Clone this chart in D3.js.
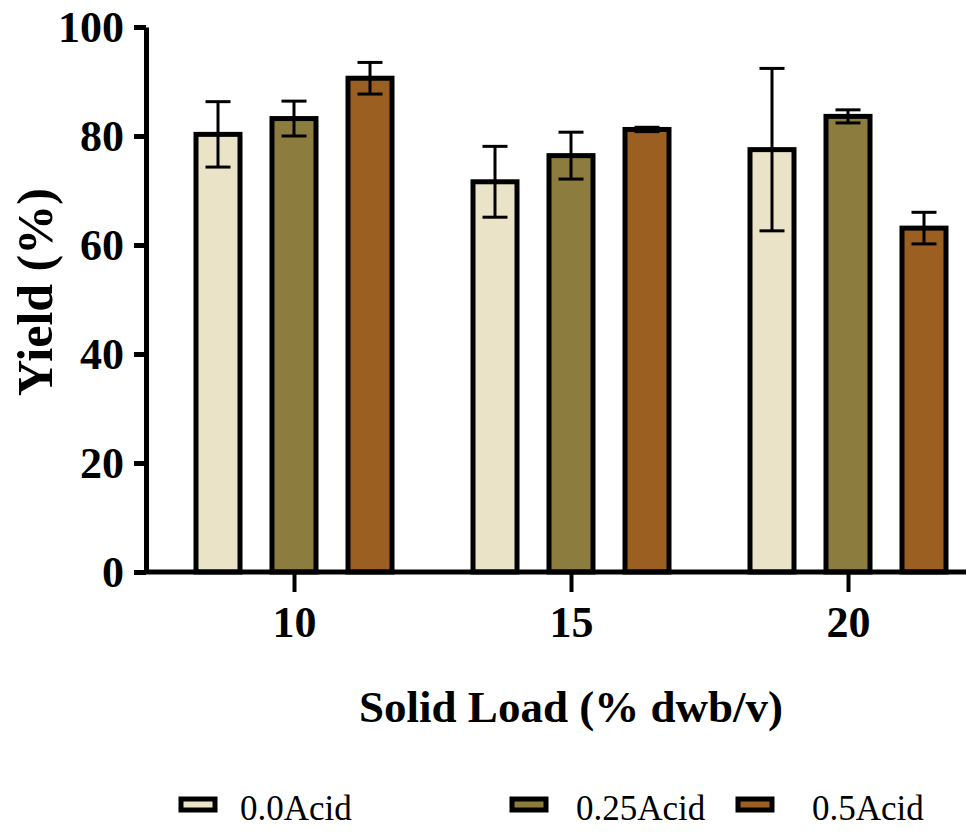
<!DOCTYPE html>
<html><head><meta charset="utf-8">
<script src="https://cdn.jsdelivr.net/npm/d3@7"></script>
<style>body{margin:0;background:#fff}svg{display:block}
.serif{font-family:"Liberation Serif","Times New Roman",Times,serif}</style>
</head><body>
<svg id="c" width="970" height="834"></svg>
<script>
const categories = ["10", "15", "20"];
const seriesNames = ["0.0Acid", "0.25Acid", "0.5Acid"];
const acid00 = [80.3, 71.6, 77.5];
const acid025 = [83.2, 76.4, 83.6];
const acid05 = [90.6, 81.2, 63.1];
const err00 = [6.0, 6.5, 14.9];
const err025 = [3.2, 4.3, 1.2];
const err05 = [2.9, 0.4, 2.9];
const yTicks = [0, 20, 40, 60, 80, 100];
const colors = ["#ebe3c8", "#8c7c3e", "#9b5f22"];

const values = [acid00, acid025, acid05];
const errs = [err00, err025, err05];

const svg = d3.select("#c");

const x = d3.scalePoint().domain(categories).range([294, 848]);
const x1 = d3.scaleBand().domain(seriesNames).range([-98, 98]).paddingInner(0.421).paddingOuter(0);
const y = d3.scaleLinear().domain([0, 100]).range([572, 27]);

const data = [];
categories.forEach((c, i) => seriesNames.forEach((s, j) => data.push({c, s, j, v: values[j][i], e: errs[j][i]})));

const g = svg.append("g");
g.selectAll("rect.bar").data(data).enter().append("rect")
  .attr("class", "bar")
  .attr("x", d => x(d.c) + x1(d.s))
  .attr("y", d => y(d.v))
  .attr("width", x1.bandwidth())
  .attr("height", d => y(0) - y(d.v))
  .attr("fill", d => colors[d.j])
  .attr("stroke", "#000").attr("stroke-width", 5);

const eb = g.selectAll("g.eb").data(data).enter().append("g").attr("class", "eb");
const cx = d => x(d.c) + x1(d.s) + x1.bandwidth() / 2;
eb.append("line").attr("x1", cx).attr("x2", cx)
  .attr("y1", d => y(d.v + d.e)).attr("y2", d => y(d.v - d.e))
  .attr("stroke", "#000").attr("stroke-width", 3);
[1, -1].forEach(sg => {
  eb.append("line").attr("x1", d => cx(d) - 12.5).attr("x2", d => cx(d) + 12.5)
    .attr("y1", d => y(d.v + sg * d.e)).attr("y2", d => y(d.v + sg * d.e))
    .attr("stroke", "#000").attr("stroke-width", 3);
});

// y axis
const ya = svg.append("g").attr("transform", "translate(146,0)")
  .call(d3.axisLeft(y).tickValues(yTicks).tickSize(12).tickSizeOuter(0).tickPadding(10));
ya.select(".domain").attr("stroke-width", 5);
ya.selectAll(".tick line").attr("stroke-width", 5);
ya.selectAll(".tick text").attr("class", "serif").attr("font-family", null).attr("font-weight", "bold")
  .attr("font-size", 44).attr("fill", "#000");

// x axis
const xa = svg.append("g").attr("transform", "translate(0,572)")
  .call(d3.axisBottom(x).tickSize(20).tickSizeOuter(0));
xa.select(".domain").remove();
xa.selectAll(".tick line").attr("stroke-width", 4);
xa.selectAll(".tick text").attr("class", "serif").attr("font-family", null).attr("font-weight", "bold")
  .attr("font-size", 44).attr("fill", "#000").attr("y", 65).attr("dy", 0);
svg.append("line").attr("x1", 144).attr("x2", 966).attr("y1", 572).attr("y2", 572)
  .attr("stroke", "#000").attr("stroke-width", 5);

// axis titles
svg.append("text").attr("class", "serif").attr("x", 571).attr("y", 722).attr("text-anchor", "middle")
  .attr("font-weight", "bold").attr("font-size", 45)
  .text("Solid Load (% dwb/v)");
svg.append("text").attr("class", "serif").attr("transform", "translate(52,292) rotate(-90)").attr("text-anchor", "middle")
  .attr("font-weight", "bold").attr("font-size", 50)
  .text("Yield (%)");

// legend
const legX = [181, 512, 738];
const legT = [240, 576, 812];
const lg = svg.selectAll("g.leg").data(seriesNames).enter().append("g");
lg.append("rect").attr("x", (d, i) => legX[i]).attr("y", 799).attr("width", 34).attr("height", 11)
  .attr("fill", (d, i) => colors[i]).attr("stroke", "#000").attr("stroke-width", 5);
lg.append("text").attr("class", "serif").attr("x", (d, i) => legT[i]).attr("y", 820)
  .attr("font-size", 35).text(d => d);
</script>
</body></html>
